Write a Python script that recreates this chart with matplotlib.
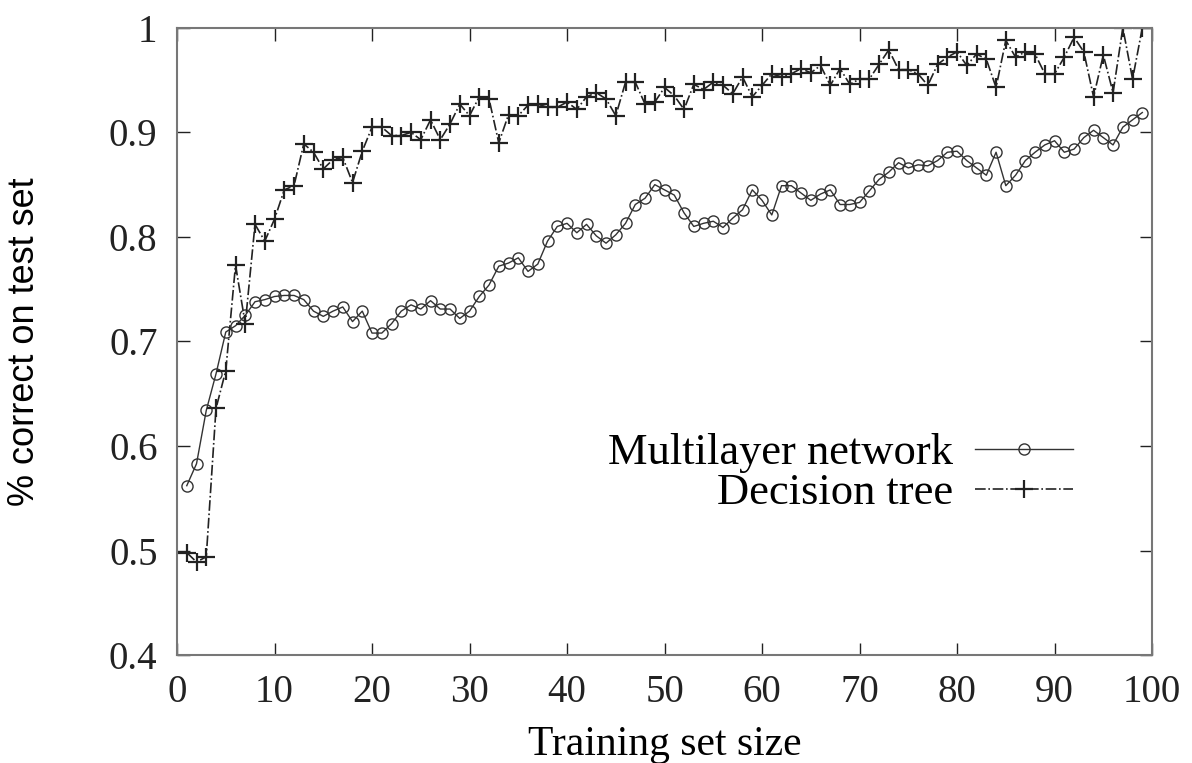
import matplotlib
matplotlib.use("Agg")
import matplotlib.pyplot as plt

# training set sizes 1..99
sizes = list(range(1, 100))

# multilayer network accuracy (circles, solid line)
network = [0.562, 0.583, 0.634, 0.669, 0.709, 0.715, 0.725, 0.738, 0.740, 0.743,
           0.744, 0.744, 0.740, 0.729, 0.724, 0.729, 0.733, 0.719, 0.729, 0.708,
           0.708, 0.717, 0.729, 0.735, 0.731, 0.739, 0.731, 0.731, 0.722, 0.729,
           0.743, 0.754, 0.772, 0.775, 0.780, 0.767, 0.774, 0.796, 0.810, 0.813,
           0.804, 0.812, 0.801, 0.794, 0.802, 0.813, 0.831, 0.837, 0.850, 0.845,
           0.840, 0.823, 0.810, 0.813, 0.815, 0.809, 0.818, 0.826, 0.845, 0.835,
           0.821, 0.849, 0.849, 0.842, 0.835, 0.841, 0.845, 0.831, 0.831, 0.833,
           0.844, 0.855, 0.862, 0.871, 0.866, 0.869, 0.868, 0.873, 0.881, 0.882,
           0.873, 0.866, 0.859, 0.881, 0.849, 0.859, 0.873, 0.881, 0.888, 0.892,
           0.881, 0.884, 0.895, 0.902, 0.895, 0.888, 0.905, 0.912, 0.919]

# decision tree accuracy (plus signs, dash-dot line)
tree = [0.498, 0.489, 0.494, 0.636, 0.672, 0.773, 0.717, 0.812, 0.796, 0.817,
        0.845, 0.849, 0.889, 0.881, 0.865, 0.874, 0.876, 0.852, 0.882, 0.905,
        0.905, 0.897, 0.897, 0.900, 0.893, 0.912, 0.893, 0.908, 0.927, 0.916,
        0.934, 0.932, 0.890, 0.917, 0.916, 0.926, 0.927, 0.924, 0.924, 0.929,
        0.922, 0.934, 0.938, 0.932, 0.916, 0.948, 0.948, 0.927, 0.929, 0.943,
        0.935, 0.922, 0.946, 0.941, 0.948, 0.945, 0.937, 0.953, 0.934, 0.945,
        0.956, 0.953, 0.956, 0.961, 0.957, 0.964, 0.945, 0.961, 0.946, 0.951,
        0.951, 0.965, 0.979, 0.960, 0.960, 0.956, 0.945, 0.965, 0.972, 0.977,
        0.964, 0.975, 0.970, 0.943, 0.988, 0.972, 0.977, 0.975, 0.956, 0.956,
        0.972, 0.991, 0.977, 0.934, 0.974, 0.938, 1.000, 0.951, 1.000]

plt.rcParams['font.family'] = ['Liberation Serif', 'DejaVu Serif']

fig = plt.figure(figsize=(11.92, 7.63), dpi=100)
ax = fig.add_axes([0.1485, 0.1415, 0.818, 0.822])

ax.plot(sizes, network, '-', color='#333333', lw=1.0, marker='o', ms=8,
        mfc='none', mec='#333333', mew=1.0, label='Multilayer network')
ax.plot(sizes, tree, '-.', color='#222222', lw=1.2, marker='+', ms=13,
        mew=1.6, label='Decision tree')

ax.set_xlim(0, 100)
ax.set_ylim(0.4, 1.0)
ax.set_xticks(range(0, 101, 10))
ax.set_yticks([0.4, 0.5, 0.6, 0.7, 0.8, 0.9, 1.0])
ax.set_yticklabels(['0.4', '0.5', '0.6', '0.7', '0.8', '0.9', '1'])
ax.tick_params(direction='in', length=9, width=1, top=True, right=True,
               labelsize=28, colors='#222222')
ax.tick_params(axis='x', pad=14)
ax.tick_params(axis='y', pad=14)
for s in ax.spines.values():
    s.set_color('#777777')
    s.set_linewidth(1.5)

ax.set_xlabel('Training set size', fontsize=30)
ax.xaxis.set_label_coords(0.5, -0.112)
ax.set_ylabel('% correct on test set', fontsize=26, family='Liberation Sans')
ax.yaxis.set_label_coords(-0.138, 0.5)

ax.legend(loc='center right', bbox_to_anchor=(0.96, 0.29), frameon=False,
          markerfirst=False, handlelength=2.2, fontsize=32, labelspacing=0.0,
          handletextpad=0.5)

fig.savefig('out.png', dpi=100)
